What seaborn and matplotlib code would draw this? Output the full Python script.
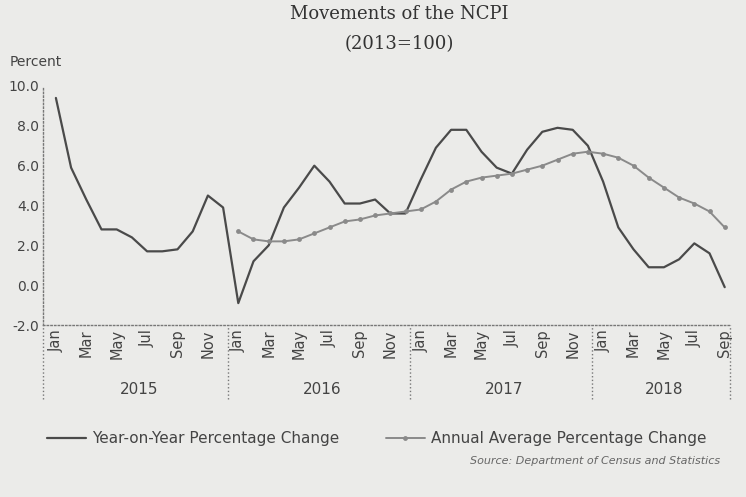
import numpy as np
import pandas as pd
import matplotlib.pyplot as plt
import seaborn as sns

sns.set_theme(style="white")
plt.rcParams["font.family"] = ["DejaVu Sans"]

BG = "#ebebe9"

# Monthly values, Jan 2015 .. Sep 2018 (percent)
months = ["Jan", "Feb", "Mar", "Apr", "May", "Jun",
          "Jul", "Aug", "Sep", "Oct", "Nov", "Dec"]
years = ["2015", "2016", "2017", "2018"]

yoy = [9.4, 5.9, 4.3, 2.8, 2.8, 2.4, 1.7, 1.7, 1.8, 2.7, 4.5, 3.9,
       -0.9, 1.2, 2.0, 3.9, 4.9, 6.0, 5.2, 4.1, 4.1, 4.3, 3.6, 3.6,
       5.3, 6.9, 7.8, 7.8, 6.7, 5.9, 5.6, 6.8, 7.7, 7.9, 7.8, 7.0,
       5.2, 2.9, 1.8, 0.9, 0.9, 1.3, 2.1, 1.6, -0.1]

# annual average series starts in Jan 2016
annual_avg = [2.7, 2.3, 2.2, 2.2, 2.3, 2.6, 2.9, 3.2, 3.3, 3.5, 3.6, 3.7,
              3.8, 4.2, 4.8, 5.2, 5.4, 5.5, 5.6, 5.8, 6.0, 6.3, 6.6, 6.7,
              6.6, 6.4, 6.0, 5.4, 4.9, 4.4, 4.1, 3.7, 2.9]

month_labels = [m for y in years for m in months][:len(yoy)]

df = pd.DataFrame({"idx": np.arange(len(yoy)), "month": month_labels, "yoy": yoy})
df["annual_avg"] = [np.nan] * 12 + annual_avg

fig = plt.figure(figsize=(7.46, 4.97), dpi=100, facecolor=BG)
ax = fig.add_axes([0.0576, 0.346, 0.921, 0.481], facecolor=BG)

sns.lineplot(data=df, x="idx", y="yoy", ax=ax, color="#4a4a4a", lw=1.6,
             label="Year-on-Year Percentage Change")
sns.lineplot(data=df.dropna(), x="idx", y="annual_avg", ax=ax, color="#8a8a8a",
             lw=1.4, marker="o", markersize=3.5, markeredgewidth=0,
             label="Annual Average Percentage Change")

ax.set_xlim(-0.85, len(yoy) - 0.65)
ax.set_ylim(-2, 10)
ax.set_yticks(np.arange(-2, 11, 2))
ax.set_yticklabels([f"{v:.1f}" for v in np.arange(-2, 11, 2)], color="#444444", fontsize=10)
ax.set_xticks(df["idx"][::2])
ax.set_xticklabels(df["month"][::2], rotation=90, color="#444444", fontsize=10.5)
ax.tick_params(axis="both", length=0, pad=3)
ax.set_xlabel("")
ax.set_ylabel("")

for s in ["top", "right"]:
    ax.spines[s].set_visible(False)
for s in ["left", "bottom"]:
    ax.spines[s].set_color("#777777")
    ax.spines[s].set_linestyle(":")
    ax.spines[s].set_linewidth(1.0)

# year separators below the axis and year labels
for b in [-0.85, 11.3, 23.3, 35.3, len(yoy) - 0.65]:
    ax.axvline(b, ymin=-0.31, ymax=0, color="#777777", ls=":", lw=1.0, clip_on=False)
starts = [0, 12, 24, 36]
ends = [11, 23, 35, len(yoy) - 1]
for yr, a, b in zip(years, starts, ends):
    ax.text((a + b) / 2, -0.27, yr, transform=ax.get_xaxis_transform(),
            ha="center", va="center", fontsize=11, color="#444444")

ax.get_legend().remove()
handles, labels = ax.get_legend_handles_labels()
fig.legend(handles, labels, loc="center", bbox_to_anchor=(0.505, 0.118), ncol=2,
           frameon=False, fontsize=11, columnspacing=3.0, handlelength=2.6,
           handletextpad=0.4, labelcolor="#444444")

fig.text(0.535, 0.972, "Movements of the NCPI", ha="center", va="center",
         family="DejaVu Serif", fontsize=13, color="#333333")
fig.text(0.535, 0.912, "(2013=100)", ha="center", va="center",
         family="DejaVu Serif", fontsize=13, color="#333333")
fig.text(0.013, 0.875, "Percent", ha="left", va="center", fontsize=10, color="#444444")
fig.text(0.965, 0.073, "Source: Department of Census and Statistics", ha="right",
         va="center", fontsize=8, style="italic", color="#666666")

fig.savefig("out.png", dpi=100, facecolor=BG)
